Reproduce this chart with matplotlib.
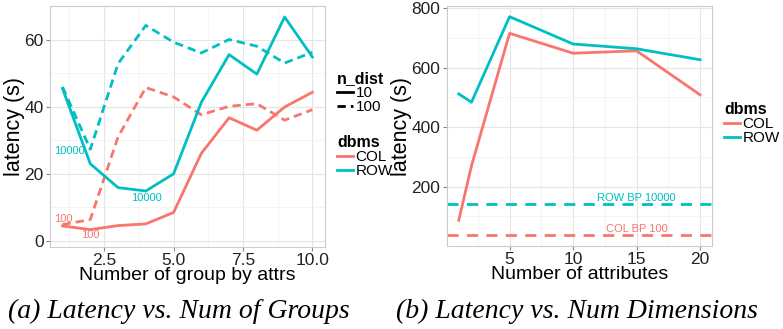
import numpy as np
import matplotlib.pyplot as plt
from matplotlib.lines import Line2D

COL_C = '#F8766D'
ROW_C = '#00BFC4'

# (a) latency vs number of group-by attrs
groups = [1, 2, 3, 4, 5, 6, 7, 8, 9, 10]
col_10 = [4.5, 3.4, 4.6, 5.1, 8.5, 26.1, 36.7, 33.0, 39.9, 44.3]
col_100 = [4.9, 6.4, 31.0, 45.7, 42.9, 37.6, 40.1, 40.9, 36.0, 39.1]
row_10 = [45.4, 23.0, 15.9, 14.9, 20.0, 41.3, 55.5, 49.7, 66.7, 54.8]
row_100 = [45.9, 27.3, 52.8, 64.2, 59.2, 56.0, 60.0, 58.0, 53.0, 56.2]

# (b) latency vs number of attributes
attrs = [1, 2, 5, 10, 15, 20]
col_dim = [87, 270, 716, 649, 657, 509]
row_dim = [512, 484, 772, 680, 664, 627]
row_bp = 143
col_bp = 38

plt.rcParams['font.family'] = ['Liberation Sans', 'DejaVu Sans']

fig = plt.figure(figsize=(7.83, 3.29), dpi=100)
ax1 = fig.add_axes([0.0639, 0.249, 0.351, 0.733])
ax2 = fig.add_axes([0.5705, 0.252, 0.339, 0.729])


def style(ax):
    ax.set_facecolor('white')
    for s in ax.spines.values():
        s.set_color('#CCCCCC')
        s.set_linewidth(0.8)
    ax.grid(True, which='major', color='#E5E5E5', lw=0.8)
    ax.grid(True, which='minor', color='#F2F2F2', lw=0.6)
    ax.set_axisbelow(True)
    ax.tick_params(which='major', length=3, color='#888888', labelsize=12.5,
                   labelcolor='#222222', pad=1.5)
    ax.tick_params(which='minor', length=0)


def legend(ax, handles, labels, title, x, y):
    leg = ax.legend(handles, labels, title=title, loc='upper left',
                    bbox_to_anchor=(x, y), frameon=False, fontsize=11,
                    handlelength=1.0, handletextpad=0.2, labelspacing=0.0,
                    borderaxespad=0, borderpad=0)
    leg.get_title().set_fontweight('bold')
    leg.get_title().set_fontsize(11.5)
    leg._legend_box.align = 'left'
    return leg


dash = (0, (3, 1.8))
lw = 2.0

# panel a
ax1.plot(groups, col_10, color=COL_C, lw=lw)
ax1.plot(groups, col_100, color=COL_C, lw=lw, ls=dash)
ax1.plot(groups, row_10, color=ROW_C, lw=lw)
ax1.plot(groups, row_100, color=ROW_C, lw=lw, ls=dash)
ax1.text(1.25, 26.7, '10000', color=ROW_C, fontsize=8, ha='center', va='center')
ax1.text(4.02, 12.8, '10000', color=ROW_C, fontsize=8, ha='center', va='center')
ax1.text(1.03, 6.7, '100', color=COL_C, fontsize=8, ha='center', va='center')
ax1.text(2.0, 1.7, '100', color=COL_C, fontsize=8, ha='center', va='center')
ax1.set_xlim(0.55, 10.45)
ax1.set_ylim(-1.8, 70)
ax1.set_xticks([2.5, 5.0, 7.5, 10.0])
ax1.set_xticklabels(['2.5', '5.0', '7.5', '10.0'])
ax1.set_xticks([1.25, 3.75, 6.25, 8.75], minor=True)
ax1.set_yticks([0, 20, 40, 60])
ax1.set_yticks([10, 30, 50, 70], minor=True)
style(ax1)
ax1.set_xlabel('Number of group by attrs', fontsize=14, labelpad=-1)
ax1.set_ylabel('latency (s)', fontsize=15.5, labelpad=0)

h_nd = [Line2D([], [], color='black', lw=2), Line2D([], [], color='black', lw=2, ls=dash)]
h_db = [Line2D([], [], color=COL_C, lw=2), Line2D([], [], color=ROW_C, lw=2)]
leg1 = legend(ax1, h_nd, ['10', '100'], 'n_dist', 1.045, 0.73)
ax1.add_artist(leg1)
legend(ax1, h_db, ['COL', 'ROW'], 'dbms', 1.045, 0.465)

# panel b
ax2.plot(attrs, col_dim, color=COL_C, lw=lw)
ax2.plot(attrs, row_dim, color=ROW_C, lw=lw)
ax2.axhline(row_bp, color=ROW_C, lw=lw, ls=(0, (4, 3)))
ax2.axhline(col_bp, color=COL_C, lw=lw, ls=(0, (4, 3)))
ax2.text(15, row_bp + 18, 'ROW BP 10000', color=ROW_C, fontsize=8, ha='center', va='center')
ax2.text(15, col_bp + 19, 'COL BP 100', color=COL_C, fontsize=8, ha='center', va='center')
ax2.set_xlim(0.05, 20.95)
ax2.set_ylim(0, 807)
ax2.set_xticks([5, 10, 15, 20])
ax2.set_xticks([2.5, 7.5, 12.5, 17.5], minor=True)
ax2.set_yticks([200, 400, 600, 800])
ax2.set_yticks([100, 300, 500, 700], minor=True)
style(ax2)
ax2.set_xlabel('Number of attributes', fontsize=14, labelpad=-1)
ax2.set_ylabel('latency (s)', fontsize=15.5, labelpad=0)
legend(ax2, h_db, ['COL', 'ROW'], 'dbms', 1.046, 0.6)

# captions
fig.text(0.228, 0.052, '(a) Latency vs. Num of Groups', family='Liberation Serif',
         style='italic', fontsize=20, ha='center', va='center')
fig.text(0.737, 0.052, '(b) Latency vs. Num Dimensions', family='Liberation Serif',
         style='italic', fontsize=20, ha='center', va='center')

fig.savefig('out.png', dpi=100)
